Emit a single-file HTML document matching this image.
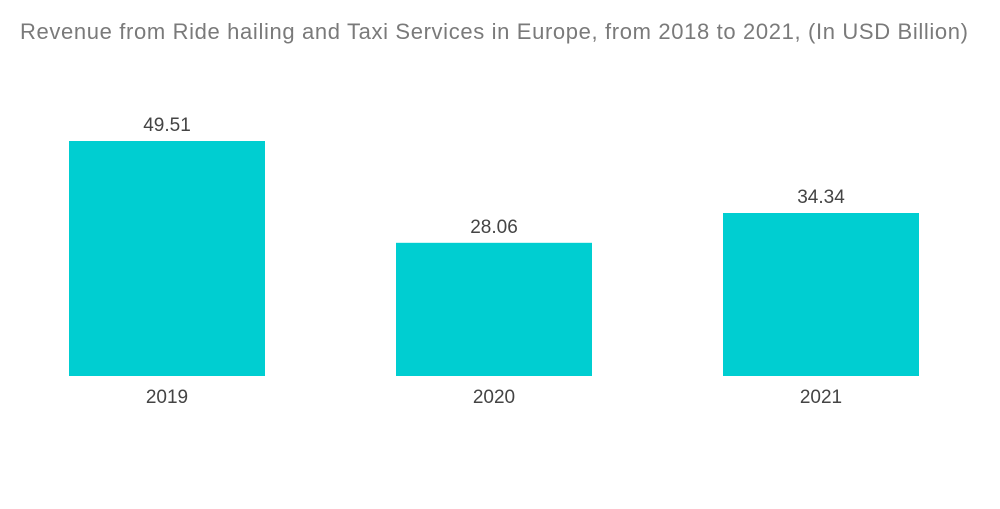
<!DOCTYPE html>
<html><head><meta charset="utf-8"><style>
html,body{margin:0;padding:0;background:#fff;}
body{width:1000px;height:504px;overflow:hidden;font-family:"Liberation Sans",sans-serif;}
</style></head><body>
<svg id="chart" width="1000" height="504" xmlns="http://www.w3.org/2000/svg">
<text x="20" y="39" textLength="948" lengthAdjust="spacing" font-family="Liberation Sans, sans-serif" font-size="22" fill="#7a7a7a">Revenue from Ride hailing and Taxi Services in Europe, from 2018 to 2021, (In USD Billion)</text>
<g id="bars"></g>
</svg>
<script>
const categories = ["2019", "2020", "2021"];
const values = [49.51, 28.06, 34.34];
const valueLabels = ["49.51", "28.06", "34.34"];

const svg = document.getElementById('bars');
const NS = 'http://www.w3.org/2000/svg';
const baseY = 376, pxPerUnit = 235 / 49.51;
const yScale = v => baseY - v * pxPerUnit;
const bandStart = 69, bandStep = 327, barW = 196;
const xScale = i => bandStart + i * bandStep;

categories.forEach((c, i) => {
  const x = xScale(i), y = yScale(values[i]);
  const r = document.createElementNS(NS, 'rect');
  
  
  r.setAttribute('x', x); r.setAttribute('y', y);
  r.setAttribute('width', barW); r.setAttribute('height', baseY - y);
  r.setAttribute('fill', '#00ced1');
  svg.appendChild(r);
  const t = document.createElementNS(NS, 'text');
  
  
  t.setAttribute('x', x + barW / 2); t.setAttribute('y', y - 10);
  t.setAttribute('text-anchor', 'middle'); t.setAttribute('font-size', '19');
  t.setAttribute('fill', '#444');
  t.textContent = valueLabels[i];
  svg.appendChild(t);
  const l = document.createElementNS(NS, 'text');
  
  
  l.setAttribute('x', x + barW / 2); l.setAttribute('y', 403);
  l.setAttribute('text-anchor', 'middle'); l.setAttribute('font-size', '19');
  l.setAttribute('fill', '#444');
  l.textContent = c;
  svg.appendChild(l);
});
</script>
</body></html>
